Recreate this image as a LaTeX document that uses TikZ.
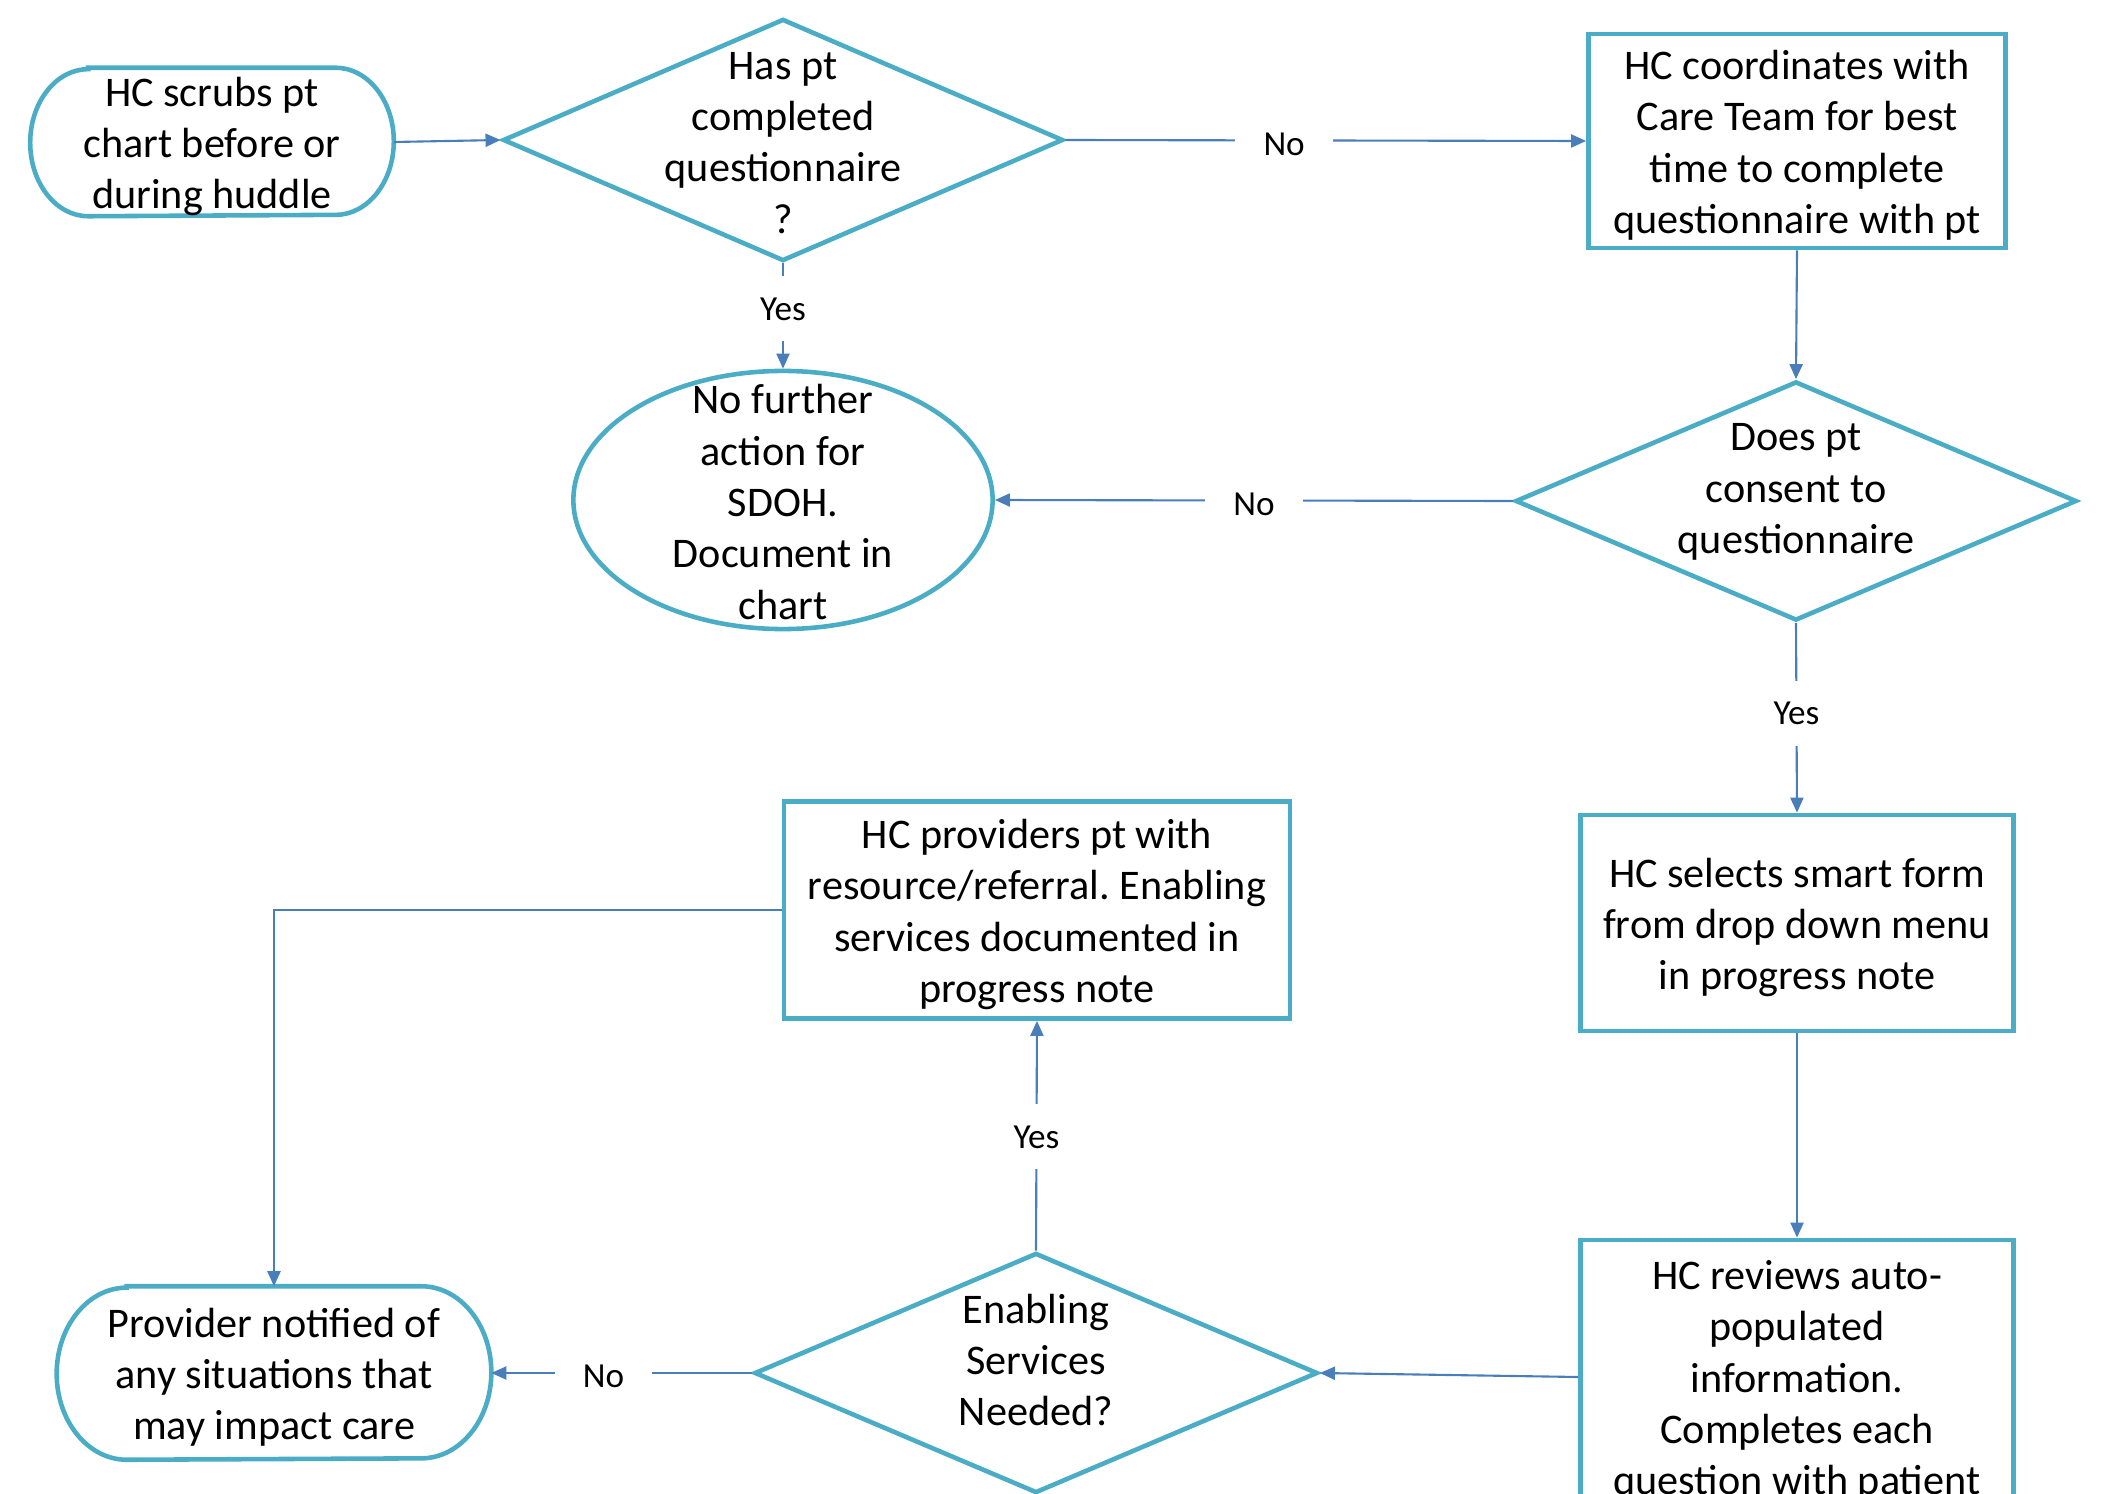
\documentclass[tikz,border=0pt]{standalone}
\usepackage{fontspec}
\setmainfont{Carlito}
\frenchspacing
\usetikzlibrary{arrows.meta,shapes.geometric}
\definecolor{shapeblue}{HTML}{4BACC6}
\definecolor{linkblue}{HTML}{4A7EBB}
\newcommand\botstrut{\rule[-3.2pt]{0pt}{3.2pt}}
\tikzset{
  box/.style={draw=shapeblue, line width=1.3pt, inner sep=0pt},
  txt/.style={align=center, inner sep=0pt, yshift=-1.8pt, font=\fontsize{12pt}{14.6pt}\selectfont,
    execute at end node=\botstrut},
  link/.style={draw=linkblue, line width=0.6pt, -{Triangle[length=0.15cm,width=0.13cm]}},
  tag/.style={fill=white, inner xsep=8pt, inner ysep=6pt, yshift=-1pt, font=\fontsize{10pt}{12pt}\selectfont},
}
% terminator outline round a plain node: (name)(x radius:y radius)
\def\termshape(#1)(#2:#3){\draw[box] ([xshift=#2]#1.north west) -- ([xshift=-#2]#1.north east) arc[start angle=90, end angle=-90, x radius=#2, y radius=#3] -- ([xshift=#2]#1.south west) arc[start angle=270, end angle=90, x radius=#2, y radius=#3] -- cycle;}

\begin{document}
\begin{tikzpicture}[x=0.01cm, y=-0.01cm]
  %%%%% START %%%%%
  \useasboundingbox (0,0) rectangle (2102,1494);
  \clip (0,0) rectangle (2102,1494);

  \node[minimum width=3.62cm, minimum height=1.47cm] (scrub) at (212,142) {};
  \termshape(scrub)(0.58cm:0.735cm)
  \node[txt] (scrubtext) at (scrub) {HC scrubs pt\\chart before or\\during huddle};

  \node[box, diamond, minimum width=5.6cm, minimum height=2.42cm] (done) at (783,140) {};
  \node[txt] (donetext) at (783,142) {Has pt\\completed\\questionnaire\\?};

  \node[box, minimum width=4.17cm, minimum height=2.14cm] (coord) at (1797,141) {};
  \node[txt] (coordtext) at (coord) {HC coordinates with\\Care Team for best\\time to complete\\questionnaire with pt};

  \node[box, ellipse, minimum width=4.19cm, minimum height=2.58cm] (nofurther) at (783,500) {};
  \node[txt] (nofurthertext) at (783,501) {No further\\action for\\SDOH.\\Document in\\chart};

  \node[box, diamond, minimum width=5.61cm, minimum height=2.39cm] (consent) at (1796,501) {};
  \node[txt] (consenttext) at (1796,488) {Does pt\\consent to\\questionnaire};

  \node[box, minimum width=4.33cm, minimum height=2.16cm] (smart) at (1797,923) {};
  \node[txt] (smarttext) at (smart) {HC selects smart form\\from drop down menu\\in progress note};

  \node[box, minimum width=4.33cm, minimum height=2.74cm] (review) at (1797,1377) {};
  \node[txt] (reviewtext) at (review) {HC reviews auto-\\populated\\information.\\Completes each\\question with patient};

  \node[box, diamond, minimum width=5.63cm, minimum height=2.4cm] (needed) at (1036,1373) {};
  \node[txt] (neededtext) at (1036,1359) {Enabling\\Services\\Needed?};

  \node[box, minimum width=5.06cm, minimum height=2.17cm] (provide) at (1037,910) {};
  \node[txt] (providetext) at (provide) {HC providers pt with\\resource/referral. Enabling\\services documented in\\progress note};

  \node[minimum width=4.33cm, minimum height=1.72cm] (notify) at (274,1373) {};
  \termshape(notify)(0.7cm:0.86cm)
  \node[txt] (notifytext) at (notify) {Provider notified of\\any situations that\\may impact care};

  % connectors
  \draw[link] (scrub.east) -- (done.west);
  \draw[link] (done.east) -- node[tag, pos=0.42] (no1) {No} (coord.west);
  \draw[link] (done.south) -- node[tag, pos=0.4] (yes1) {Yes} (nofurther.north);
  \draw[link] (coord.south) -- (consent.north);
  \draw[link] (consent.west) -- node[tag, pos=0.5] (no2) {No} (nofurther.east);
  \draw[link] (consent.south) -- node[tag, pos=0.46] (yes2) {Yes} (smart.north);
  \draw[link] (smart.south) -- (review.north);
  \draw[link] (review.west) -- (needed.east);
  \draw[link] (needed.north) -- node[tag, pos=0.51] (yes3) {Yes} (provide.south);
  \draw[link] (needed.west) -- node[tag, pos=0.57] (no3) {No} (notify.east);
  \draw[link] (provide.west) -| (notify.north);
  %%%%% END %%%%%
\end{tikzpicture}
\end{document}
